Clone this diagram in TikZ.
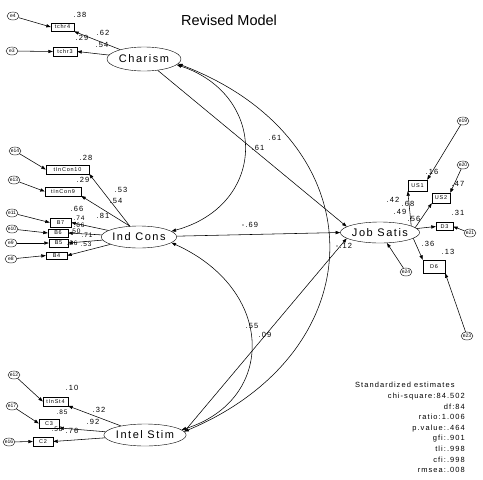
\documentclass[tikz,border=0pt]{standalone}
\usepackage{fontspec}
\setmainfont{Liberation Sans}
\newfontfamily\amosfont[LetterSpace=14]{Liberation Sans}
\usetikzlibrary{arrows.meta,shapes.geometric}

\begin{document}
\begin{tikzpicture}[
  x=1pt, y=-1pt,
  latent/.style={ellipse, draw=black, inner sep=0pt, minimum width=74pt, minimum height=22pt, font=\amosfont\fontsize{11}{11}\selectfont},
  obsbox/.style={rectangle, draw=black, inner sep=0pt, minimum height=8.5pt, font=\amosfont\fontsize{5.5}{5.5}\selectfont},
  errc/.style={ellipse, draw=black, inner sep=0pt, minimum width=12pt, minimum height=8pt, font=\fontsize{5}{5}\selectfont},
  est/.style={inner sep=0pt, font=\amosfont\fontsize{7.5}{7.5}\selectfont},
  smallest/.style={est, font=\amosfont\fontsize{6.5}{6.5}\selectfont},
  fitline/.style={inner sep=0pt, anchor=base east, font=\amosfont\fontsize{7.5}{7.5}\selectfont},
  arrow/.style={-{Triangle[length=4.5pt,width=3.2pt]}, line width=0.55pt},
  covarrow/.style={{Triangle[length=4.5pt,width=3.2pt]}-{Triangle[length=4.5pt,width=3.2pt]}, line width=0.55pt}
]
\useasboundingbox (0,0) rectangle (483,480);

\node[font=\fontsize{14.5}{14.5}\selectfont] (title) at (229,20) {Revised Model};

% latent variables
\node[latent, minimum height=24pt] (charism) at (144,59) {Charism};
\node[latent] (indcons) at (139,237) {Ind Cons};
\node[latent, minimum width=78pt] (intelstim) at (145,435) {Intel Stim};
\node[latent, minimum width=64pt, minimum height=21pt] (jobsatis) at (380,232.5) {Job Satis};

% observed variables
\node[obsbox, minimum width=23pt] (tchr4) at (62.5,27) {tchr4};
\node[obsbox, minimum width=24pt] (tchr3) at (65,51.5) {tchr3};
\node[obsbox, minimum width=43pt] (tincon10) at (67.5,169.5) {tInCon10};
\node[obsbox, minimum width=36pt] (tincon9) at (63,191.5) {tInCon9};
\node[obsbox, minimum width=21pt] (b7) at (60.5,222.5) {B7};
\node[obsbox, minimum width=20pt] (b6) at (58,233) {B6};
\node[obsbox, minimum width=19pt] (b5) at (58.5,243) {B5};
\node[obsbox, minimum width=21pt, minimum height=7.5pt] (b4) at (56.5,255.5) {B4};
\node[obsbox, minimum width=25pt] (tinst4) at (55.5,401.5) {tInSt4};
\node[obsbox, minimum width=20pt] (c3) at (49,423.5) {C3};
\node[obsbox, minimum width=20pt] (c2) at (43,441.5) {C2};
\node[obsbox, minimum width=19pt, minimum height=11pt] (us1) at (417.5,185.5) {US1};
\node[obsbox, minimum width=18pt, minimum height=10pt] (us2) at (441,198) {US2};
\node[obsbox, minimum width=17pt, minimum height=8pt] (d3) at (444.5,226.5) {D3};
\node[obsbox, minimum width=22pt, minimum height=13pt] (d6) at (434,266.5) {D6};

% error terms
\node[errc] (e4) at (13,16) {e4};
\node[errc] (e3) at (12,51) {e3};
\node[errc] (e14) at (15,151) {e14};
\node[errc] (e13) at (14,180) {e13};
\node[errc] (e11) at (12,213) {e11};
\node[errc] (e10) at (12,229) {e10};
\node[errc] (e9) at (11,243) {e9};
\node[errc] (e8) at (11,259) {e8};
\node[errc] (e12) at (14,375) {e12};
\node[errc] (e17) at (12,406) {e17};
\node[errc] (e16) at (9,442) {e16};
\node[errc] (e19) at (463,121) {e19};
\node[errc] (e20) at (463,165) {e20};
\node[errc] (e21) at (470,233) {e21};
\node[errc] (e24) at (406,272) {e24};
\node[errc] (e23) at (467,336) {e23};

% loadings
\draw[arrow] (charism) -- (tchr4.south east);
\draw[arrow] (charism) -- (tchr3.east);
\draw[arrow] (indcons.130) -- (tincon10.south east);
\draw[arrow] (indcons.130) -- (tincon9.south east);
\draw[arrow] (indcons) -- (b7.east);
\draw[arrow] (indcons) -- (b6.east);
\draw[arrow] (indcons) -- (b5.east);
\draw[arrow] (indcons) -- (b4.east);
\draw[arrow] (intelstim) -- (tinst4.south east);
\draw[arrow] (intelstim) -- (c3.south east);
\draw[arrow] (intelstim) -- (c2.east);
\draw[arrow] (jobsatis.12) -- (us1.south west);
\draw[arrow] (jobsatis.8) -- (us2.south west);
\draw[arrow] (jobsatis) -- (d3.west);
\draw[arrow] (jobsatis.-10) -- (d6.north west);

% errors
\draw[arrow] (e4) -- (tchr4.west);
\draw[arrow] (e3) -- (tchr3.west);
\draw[arrow] (e14) -- (tincon10.west);
\draw[arrow] (e13) -- (tincon9.west);
\draw[arrow] (e11) -- (b7.west);
\draw[arrow] (e10) -- (b6.west);
\draw[arrow] (e9) -- (b5.west);
\draw[arrow] (e8) -- (b4.west);
\draw[arrow] (e12) -- (tinst4.west);
\draw[arrow] (e17) -- (c3.west);
\draw[arrow] (e16) -- (c2.west);
\draw[arrow] (e19) -- (us1.north east);
\draw[arrow] (e20) -- (us2.north east);
\draw[arrow] (e21) -- (d3.east);
\draw[arrow] (e23) -- (d6.south east);
\draw[arrow] (e24) -- (jobsatis);

% structural paths and covariances
\draw[arrow] (charism) -- (jobsatis.170);
\draw[arrow] (indcons) -- (jobsatis.west);
\draw[arrow] (intelstim.5) -- (jobsatis.190);
\draw[covarrow] (charism.-10) .. controls (268,95) and (268,205) .. (indcons.10);
\draw[covarrow] (charism.-8) .. controls (378,140) and (378,350) .. (intelstim.5);
\draw[covarrow] (indcons.-10) .. controls (276,290) and (276,400) .. (intelstim.8);

% estimates
\node[est] (r_tchr4) at (80,14.5) {.38};
\node[est] (l_tchr4) at (103,33) {.62};
\node[est] (r_tchr3) at (82,38) {.29};
\node[est] (l_tchr3) at (102,44.5) {.54};
\node[est] (r_tincon10) at (86,158) {.28};
\node[est] (r_tincon9) at (83,180) {.29};
\node[est] (l_tincon10) at (121,190) {.53};
\node[est] (l_tincon9) at (116,200.5) {.54};
\node[est] (r_b7) at (77,209) {.66};
\node[est] (l_b7) at (103,216) {.81};
\node[smallest] (r_b6) at (79,218.5) {.74};
\node[smallest] (l_b6) at (79,225) {.66};
\node[smallest] (r_b5) at (75,230.8) {.50};
\node[smallest] (l_b5) at (87,235.5) {.71};
\node[smallest] (r_b4) at (72,243) {.26};
\node[smallest] (l_b4) at (86,244) {.53};
\node[est] (r_tinst4) at (72,388) {.10};
\node[est] (l_tinst4) at (99,409.5) {.32};
\node[smallest] (r_c3) at (62,412) {.85};
\node[est] (l_c3) at (93,421.5) {.92};
\node[smallest] (r_c2) at (57,429.5) {.58};
\node[est] (l_c2) at (72,431) {.76};
\node[est] (r_us1) at (432,171.5) {.16};
\node[est] (r_us2) at (458,183.5) {.47};
\node[est] (r_d3) at (458,212.5) {.31};
\node[est] (l_us1) at (393,199.5) {.42};
\node[est] (l_us2) at (408,203.5) {.68};
\node[est] (l_d3) at (400,211.5) {.49};
\node[est] (l_d6) at (414,218.5) {.56};
\node[est] (r_d6) at (428,244) {.36};
\node[est] (r_js) at (448,251.5) {.13};
\node[est] (c_ci) at (258,148) {.61};
\node[est] (p_cj) at (275,138) {.61};
\node[est] (p_ij) at (250,225) {-.69};
\node[est] (c_is) at (252,326) {.55};
\node[est] (p_sj) at (265,335) {.09};
\node[est] (c_cs) at (344,246) {-.12};

% fit summary
\node[inner sep=0pt, anchor=base west, font=\amosfont\fontsize{7.5}{7.5}\selectfont] (stdest) at (355,387.5) {Standardized estimates};
\foreach \txt [count=\i] in {chi-square:84.502, df:84, ratio:1.006, p.value:.464, gfi:.901, tli:.998, cfi:.998, rmsea:.008}
  \node[fitline] (fit\i) at (465,{387.9+10.6*\i}) {\txt};
\end{tikzpicture}
\end{document}
